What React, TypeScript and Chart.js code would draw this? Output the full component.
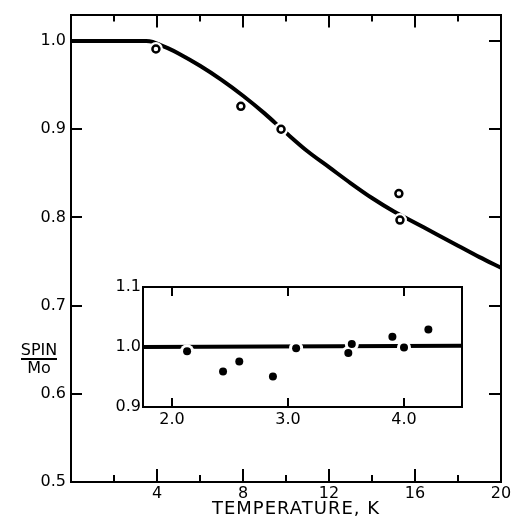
import React, { useEffect, useRef } from 'react';
import { Chart, registerables } from 'chart.js';

Chart.register(...registerables);

// ---- data ----
const curveT = [0, 1, 2, 3, 3.5, 3.8, 4, 4.5, 5, 6, 7, 8, 9, 10, 11, 12, 13, 14, 15, 16, 17, 18, 19, 20];
const curveSpin = [1.0, 1.0, 1.0, 1.0, 1.0, 0.999, 0.997, 0.992, 0.986, 0.972, 0.956, 0.938, 0.918, 0.896, 0.875, 0.857, 0.839, 0.822, 0.807, 0.794, 0.781, 0.768, 0.755, 0.743];
const mainPointT = [3.95, 7.9, 9.77, 15.25, 15.3];
const mainPointSpin = [0.991, 0.926, 0.9, 0.827, 0.797];

const insetLineT = [1.75, 4.5];
const insetLineSpin = [1.0, 1.002];
const insetPointT = [2.13, 2.44, 2.58, 2.87, 3.07, 3.52, 3.55, 3.9, 4.0, 4.21];
const insetPointSpin = [0.993, 0.959, 0.976, 0.951, 0.998, 0.99, 1.005, 1.017, 0.999, 1.029];

const mainXLabels = [4, 8, 12, 16, 20];
const mainYLabels = [0.5, 0.6, 0.7, 0.8, 0.9, 1.0];
const mainXTicks = [2, 4, 6, 8, 10, 12, 14, 16, 18];
const mainYTicks = [0.6, 0.7, 0.8, 0.9, 1.0];
const insetXLabels = [2.0, 3.0, 4.0];
const insetYLabels = [0.9, 1.0, 1.1];

const xTitle = 'TEMPERATURE, K';
const yTitleTop = 'SPIN';
const yTitleBottom = 'Mo';

const FONT = '"DejaVu Sans", sans-serif';

const toXY = (xs: number[], ys: number[]) => xs.map((x, i) => ({ x, y: ys[i] }));

const setTicks = (vals: number[]) => (scale: any) => {
  scale.ticks = vals.map((v) => ({ value: v }));
};

const mainDecor = {
  id: 'mainDecor',
  afterDraw(chart: any) {
    const ctx = chart.ctx;
    const x = chart.scales.x;
    const y = chart.scales.y;
    const a = chart.chartArea;
    ctx.save();
    ctx.strokeStyle = '#000';
    ctx.lineWidth = 2;
    ctx.beginPath();
    for (const v of mainXTicks) {
      const px = Math.round(x.getPixelForValue(v));
      const len = v % 4 === 0 ? 13 : 7;
      ctx.moveTo(px, a.bottom);
      ctx.lineTo(px, a.bottom - len);
      ctx.moveTo(px, a.top);
      ctx.lineTo(px, a.top + len);
    }
    for (const v of mainYTicks) {
      const py = Math.round(y.getPixelForValue(v));
      ctx.moveTo(a.left, py);
      ctx.lineTo(a.left + 11, py);
      ctx.moveTo(a.right, py);
      ctx.lineTo(a.right - 12, py);
    }
    ctx.stroke();

    ctx.fillStyle = '#000';
    ctx.textAlign = 'center';
    ctx.textBaseline = 'middle';
    ctx.font = `18px ${FONT}`;
    (ctx as any).letterSpacing = '1px';
    ctx.fillText(xTitle, a.left + 225, a.bottom + 27);
    (ctx as any).letterSpacing = '0px';

    ctx.font = `16px ${FONT}`;
    const cx = 39;
    const cy = 359;
    ctx.fillText(yTitleTop, cx, cy - 8);
    ctx.fillText(yTitleBottom, cx, cy + 10);
    ctx.lineWidth = 2;
    ctx.beginPath();
    ctx.moveTo(cx - 18, cy);
    ctx.lineTo(cx + 18, cy);
    ctx.stroke();
    ctx.restore();
  },
};

const insetDecor = {
  id: 'insetDecor',
  afterDraw(chart: any) {
    const ctx = chart.ctx;
    const x = chart.scales.x;
    const a = chart.chartArea;
    ctx.save();
    ctx.strokeStyle = '#000';
    ctx.lineWidth = 2;
    ctx.beginPath();
    for (const v of insetXLabels) {
      const px = Math.round(x.getPixelForValue(v));
      ctx.moveTo(px, a.bottom);
      ctx.lineTo(px, a.bottom - 9);
      ctx.moveTo(px, a.top);
      ctx.lineTo(px, a.top + 9);
    }
    ctx.stroke();
    ctx.restore();
  },
};

const border = { display: true, color: '#000', width: 2 };

function MainChart() {
  const ref = useRef<HTMLCanvasElement>(null);
  useEffect(() => {
    const chart = new Chart(ref.current as HTMLCanvasElement, {
      type: 'scatter',
      data: {
        datasets: [
          {
            data: toXY(curveT, curveSpin),
            showLine: true,
            borderColor: '#000',
            borderWidth: 4,
            pointRadius: 0,
            cubicInterpolationMode: 'monotone',
            order: 3,
          } as any,
          {
            data: toXY(mainPointT, mainPointSpin),
            pointRadius: 7,
            pointBackgroundColor: '#fff',
            pointBorderWidth: 0,
            pointBorderColor: '#fff',
            order: 2,
          },
          {
            data: toXY(mainPointT, mainPointSpin),
            pointRadius: 3.5,
            pointBackgroundColor: '#fff',
            pointBorderWidth: 2.5,
            pointBorderColor: '#000',
            order: 1,
          },
        ],
      },
      options: {
        responsive: false,
        animation: false,
        events: [],
        layout: { padding: 0 },
        plugins: { legend: { display: false }, tooltip: { enabled: false } },
        scales: {
          x: {
            type: 'linear',
            position: 'bottom',
            min: 0,
            max: 20,
            afterBuildTicks: setTicks(mainXLabels),
            afterFit: (s: any) => { s.height = 40; },
            grid: { display: false, drawTicks: false },
            border,
            ticks: { color: '#000', padding: 2, font: { family: FONT, size: 16 }, callback: (v: any) => String(v) },
          },
          xTop: {
            type: 'linear',
            position: 'top',
            min: 0,
            max: 20,
            afterFit: (s: any) => { s.height = 13; },
            grid: { display: false, drawTicks: false },
            border,
            ticks: { display: false },
          },
          y: {
            type: 'linear',
            position: 'left',
            min: 0.5,
            max: 1.03,
            afterBuildTicks: setTicks(mainYLabels),
            afterFit: (s: any) => { s.width = 71; },
            grid: { display: false, drawTicks: false },
            border,
            ticks: { color: '#000', padding: 5, font: { family: FONT, size: 16 }, callback: (v: any) => Number(v).toFixed(1) },
          },
          yRight: {
            type: 'linear',
            position: 'right',
            min: 0.5,
            max: 1.03,
            afterFit: (s: any) => { s.width = 15; },
            grid: { display: false, drawTicks: false },
            border,
            ticks: { display: false },
          },
        },
      } as any,
      plugins: [mainDecor],
    });
    return () => chart.destroy();
  }, []);
  return <canvas ref={ref} width={516} height={522} style={{ position: 'absolute', left: 0, top: 0 }} />;
}

function InsetChart() {
  const ref = useRef<HTMLCanvasElement>(null);
  useEffect(() => {
    const chart = new Chart(ref.current as HTMLCanvasElement, {
      type: 'scatter',
      data: {
        datasets: [
          {
            data: toXY(insetLineT, insetLineSpin),
            showLine: true,
            borderColor: '#000',
            borderWidth: 4,
            pointRadius: 0,
            order: 3,
          },
          {
            data: toXY(insetPointT, insetPointSpin),
            pointRadius: 7,
            pointBackgroundColor: '#fff',
            pointBorderWidth: 0,
            pointBorderColor: '#fff',
            order: 2,
          },
          {
            data: toXY(insetPointT, insetPointSpin),
            pointRadius: 4,
            pointBackgroundColor: '#000',
            pointBorderWidth: 0,
            pointBorderColor: '#000',
            order: 1,
          },
        ],
      },
      options: {
        responsive: false,
        animation: false,
        events: [],
        layout: { padding: 0 },
        plugins: { legend: { display: false }, tooltip: { enabled: false } },
        scales: {
          x: {
            type: 'linear',
            position: 'bottom',
            min: 1.75,
            max: 4.5,
            afterBuildTicks: setTicks(insetXLabels),
            afterFit: (s: any) => { s.height = 38; },
            grid: { display: false, drawTicks: false },
            border,
            ticks: { color: '#000', padding: 3, font: { family: FONT, size: 16 }, callback: (v: any) => Number(v).toFixed(1) },
          },
          xTop: {
            type: 'linear',
            position: 'top',
            min: 1.75,
            max: 4.5,
            afterFit: (s: any) => { s.height = 12; },
            grid: { display: false, drawTicks: false },
            border,
            ticks: { display: false },
          },
          y: {
            type: 'linear',
            position: 'left',
            min: 0.9,
            max: 1.1,
            afterBuildTicks: setTicks(insetYLabels),
            afterFit: (s: any) => { s.width = 43; },
            grid: { display: false, drawTicks: false },
            border,
            ticks: { color: '#000', padding: 2, font: { family: FONT, size: 16 }, callback: (v: any) => Number(v).toFixed(1) },
          },
          yRight: {
            type: 'linear',
            position: 'right',
            min: 0.9,
            max: 1.1,
            afterFit: (s: any) => { s.width = 13; },
            grid: { display: false, drawTicks: false },
            border,
            ticks: { display: false },
          },
        },
      } as any,
      plugins: [insetDecor],
    });
    return () => chart.destroy();
  }, []);
  return <canvas ref={ref} width={375} height={170} style={{ position: 'absolute', left: 100, top: 275 }} />;
}

export default function App() {
  return (
    <div style={{ position: 'fixed', left: 0, top: 0, width: 516, height: 522, background: '#fff', overflow: 'hidden' }}>
      <MainChart />
      <InsetChart />
    </div>
  );
}
